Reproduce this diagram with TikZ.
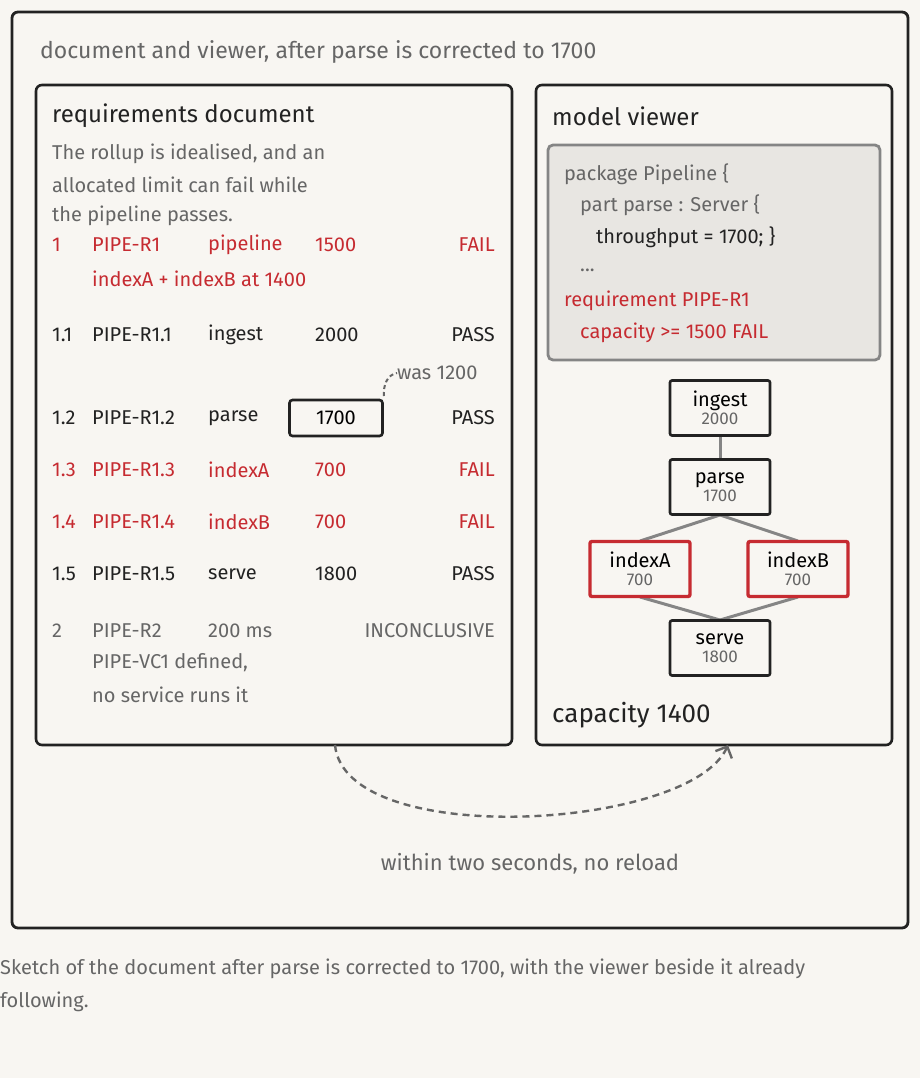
\documentclass[tikz,border=0pt]{standalone}
\usepackage{fontspec}
\setmainfont{Fira Sans}
\usetikzlibrary{arrows.meta}
\definecolor{bg}{HTML}{F8F6F2}
\definecolor{ink}{HTML}{222222}
\definecolor{soft}{HTML}{666666}
\definecolor{bad}{HTML}{C62B31}
\definecolor{codebg}{HTML}{E8E6E2}
\tikzset{
  txt/.style={anchor=west,inner sep=0pt,font=\fontsize{20}{24}\selectfont},
  rtxt/.style={anchor=east,inner sep=0pt,font=\fontsize{20}{24}\selectfont},
  panel/.style={draw=ink,line width=2.6pt,rounded corners=6pt},
  mod/.style={draw=ink,line width=2.6pt,fill=bg,minimum width=100pt,minimum height=55pt,rounded corners=2pt,
    align=center,inner sep=0pt,font=\fontsize{20}{20}\selectfont},
  modbad/.style={mod,draw=bad,line width=3.4pt},
  link/.style={draw=soft!80,line width=3pt},
  dashline/.style={soft,line width=2.4pt,dash pattern=on 7pt off 5pt}
}
\newcommand{\sub}[1]{\\[-2pt]{\color{soft}\fontsize{17}{17}\selectfont #1}}
\begin{document}
\begin{tikzpicture}[x=1pt,y=-1pt]
    \useasboundingbox[fill=bg] (0,0) rectangle (920,1078);

    % Frames
    \draw[panel,line width=2.8pt] (12,12) rectangle (908,928);
    \draw[panel] (36,85) rectangle (512,745);
    \draw[panel] (536,85) rectangle (892,745);
    \draw[draw=soft!80,fill=codebg,line width=2.8pt,rounded corners=5pt] (548,145) rectangle (880,360);

    \node[txt,text=soft,font=\fontsize{23}{26}\selectfont] (title) at (40,52) {document and viewer, after parse is corrected to 1700};

    % Document side
    \node[txt,text=ink,font=\fontsize{24}{28}\selectfont] (dochead) at (52,116) {requirements document};
    \node[txt,text=soft] (p1) at (52,154) {The rollup is idealised, and an};
    \node[txt,text=soft] (p2) at (52,185) {allocated limit can fail while};
    \node[txt,text=soft] (p3) at (52,216) {the pipeline passes.};

    \foreach \y/\n/\id/\nm/\v/\res/\c in {
        245/1/PIPE-R1/pipeline/1500/FAIL/bad,
        335/1.1/PIPE-R1.1/ingest/2000/PASS/ink,
        418/1.2/PIPE-R1.2/parse//PASS/ink,
        470/1.3/PIPE-R1.3/indexA/700/FAIL/bad,
        522/1.4/PIPE-R1.4/indexB/700/FAIL/bad,
        574/1.5/PIPE-R1.5/serve/1800/PASS/ink}{
      \node[txt,text=\c] at (52,\y) {\n};
      \node[txt,text=\c] at (92,\y) {\id};
      \node[txt,text=\c] at (208,\y) {\nm};
      \node[txt,text=\c] at (315,\y) {\v};
      \node[rtxt,text=\c] at (495,\y) {\res};
    }
    \node[txt,text=bad] (r1b) at (92,279) {indexA + indexB at 1400};
    \node[draw=ink,line width=2.6pt,rounded corners=3pt,minimum width=93pt,minimum height=36pt,
      inner sep=0pt,font=\fontsize{20}{24}\selectfont] (fix) at (336,418) {1700};
    \node[txt,text=soft] (was) at (397,373) {was 1200};
    \coordinate (fixc) at (384,396);
    \draw[soft,line width=2pt,dash pattern=on 4pt off 3pt] (fixc) to[out=95,in=190] (was.west);

    \node[txt,text=soft] at (52,631) {2};
    \node[txt,text=soft] at (92,631) {PIPE-R2};
    \node[txt,text=soft] at (208,631) {200 ms};
    \node[rtxt,text=soft] at (495,631) {INCONCLUSIVE};
    \node[txt,text=soft] (vc1) at (92,663) {PIPE-VC1 defined,};
    \node[txt,text=soft] (vc2) at (92,695) {no service runs it};

    % Viewer side
    \node[txt,text=ink,font=\fontsize{24}{28}\selectfont] (viewhead) at (552,116) {model viewer};
    \node[txt,text=soft] at (564,174) {package Pipeline \{};
    \node[txt,text=soft] at (580,205) {part parse : Server \{};
    \node[txt,text=ink] at (596,237) {throughput = 1700; \}};
    \node[txt,text=soft] at (580,270) {...};
    \node[txt,text=bad] at (564,301) {requirement PIPE-R1};
    \node[txt,text=bad] at (580,333) {capacity >= 1500 FAIL};

    \draw[link] (720,436) -- (720,460);
    \draw[link] (720,515) -- (640,541);
    \draw[link] (720,515) -- (798,541);
    \draw[link] (640,597) -- (720,620);
    \draw[link] (798,597) -- (720,620);
    \node[mod] (ingest) at (720,408) {ingest\sub{2000}};
    \node[mod] (parse) at (720,487) {parse\sub{1700}};
    \node[modbad] (indexA) at (640,569) {indexA\sub{700}};
    \node[modbad] (indexB) at (798,569) {indexB\sub{700}};
    \node[mod] (serve) at (720,648) {serve\sub{1800}};

    \node[txt,text=ink,font=\fontsize{26}{30}\selectfont] (cap) at (552,715) {capacity 1400};

    % Live update arrow
    \coordinate (from) at (335,745);
    \coordinate (to) at (728,745);
    \draw[dashline,-{Straight Barb[length=9pt,width=18pt,line width=2.4pt]}]
      (from) .. controls (345,850) and (690,830) .. (to);
    \node[text=soft,font=\fontsize{22}{26}\selectfont] (note) at (530,864) {within two seconds, no reload};

    % Caption
    \node[txt,text=soft,font=\fontsize{20}{24}\selectfont] (cap1) at (0,969) {Sketch of the document after parse is corrected to 1700, with the viewer beside it already};
    \node[txt,text=soft,font=\fontsize{20}{24}\selectfont] (cap2) at (0,1002) {following.};
\end{tikzpicture}
\end{document}
